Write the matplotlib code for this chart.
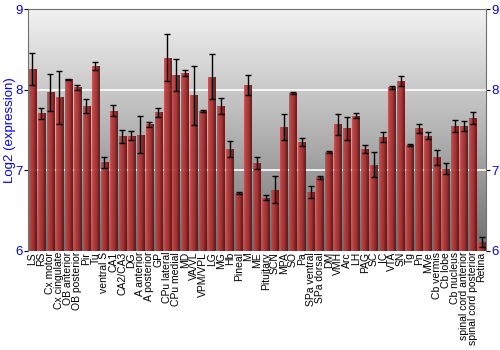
import matplotlib.pyplot as plt
import numpy as np
from matplotlib.colors import LinearSegmentedColormap

regions = ["LS", "RS", "Cx motor", "Cx cingulate", "OB anterior", "OB posterior",
           "Pir", "Tu", "ventral S", "CA1", "CA2/CA3", "DG", "A anterior",
           "A posterior", "GP", "CPu lateral", "CPu medial", "MD", "VA/VL",
           "VPM/VPL", "LG", "MG", "Hb", "Pineal", "M", "ME", "Pituitary", "SCN",
           "MPA", "SO", "Pa", "SPa ventral", "SPa dorsal", "DM", "VMH", "Arc",
           "LH", "PAG", "SC", "IC", "VTA", "SN", "Tg", "Pn", "MVe", "Cb vermis",
           "Cb lobe", "Cb nucleus", "spinal cord anterior", "spinal cord posterior",
           "Retina"]
expr = [8.26, 7.71, 7.97, 7.91, 8.13, 8.03, 7.80, 8.30, 7.10, 7.74, 7.42, 7.43,
        7.44, 7.57, 7.72, 8.40, 8.18, 8.21, 7.93, 7.74, 8.16, 7.80, 7.26, 6.72,
        8.06, 7.09, 6.66, 6.76, 7.54, 7.96, 7.35, 6.73, 6.91, 7.23, 7.57, 7.52,
        7.68, 7.26, 7.07, 7.41, 8.03, 8.11, 7.31, 7.52, 7.43, 7.16, 7.02, 7.55,
        7.55, 7.65, 6.11]
err = [0.20, 0.07, 0.23, 0.33, 0.01, 0.03, 0.09, 0.05, 0.07, 0.07, 0.08, 0.06,
       0.23, 0.03, 0.06, 0.29, 0.20, 0.04, 0.37, 0.01, 0.28, 0.10, 0.10, 0.01,
       0.13, 0.07, 0.03, 0.17, 0.16, 0.015, 0.05, 0.07, 0.02, 0.01, 0.13, 0.14,
       0.03, 0.05, 0.16, 0.06, 0.02, 0.06, 0.01, 0.06, 0.04, 0.09, 0.07, 0.07,
       0.065, 0.07, 0.06]

fig = plt.figure(figsize=(5, 3.5), dpi=100)
ax = fig.add_axes([0.056, 0.284, 0.916, 0.689])

x = np.arange(len(regions))
ax.set_xlim(-0.5, len(regions) - 0.5)
ax.set_ylim(6, 9)

# background gradient, light at top, dark at bottom
bg = LinearSegmentedColormap.from_list("bg", ["#6e6e6e", "#b4b4b4", "#f2f2f2"])
ax.imshow(np.linspace(0, 1, 256).reshape(-1, 1), cmap=bg, aspect="auto",
          extent=(-0.5, len(regions) - 0.5, 6, 9), origin="lower", zorder=0)

for v in [7, 8]:
    ax.axhline(v, color="white", lw=1.2, zorder=1)

bars = ax.bar(x, expr, width=0.82, bottom=0, color="none", zorder=2)
ax.set_ylim(6, 9)

barmap = LinearSegmentedColormap.from_list(
    "bar", ["#c65454", "#b83c3c", "#ad3232", "#a02a2a", "#7a1a1a", "#5e1212"])
grad = np.linspace(0, 1, 64).reshape(1, -1)
for b in bars:
    x0 = b.get_x()
    im = ax.imshow(grad, cmap=barmap, aspect="auto", alpha=0.93,
                   extent=(x0, x0 + b.get_width(), 6, b.get_height()), zorder=2)
    im.set_clip_path(b)

ax.errorbar(x, expr, yerr=err, fmt="none", ecolor="black", elinewidth=1,
            capsize=2, capthick=1, zorder=3)

ax.set_xlim(-0.5, len(regions) - 0.5)
ax.set_xticks(x)
ax.set_xticklabels(regions, rotation=90, fontsize=7.5, fontfamily="Liberation Sans")
ax.tick_params(axis="x", length=0, pad=1)

ax.set_yticks([6, 7, 8, 9])
ax.tick_params(axis="y", colors="#0000ff", labelsize=9.5, length=3,
               right=True, labelright=True, left=True, labelleft=True, pad=1)
for t in ax.get_yticklabels():
    t.set_fontfamily("Liberation Sans")
ax.tick_params(axis="y", which="both", color="black")
ax.set_ylabel("Log2 (expression)", color="#0000ff", fontsize=9.5,
              fontfamily="Liberation Sans")
ax.yaxis.set_label_coords(-0.026, 0.5)

for s in ["left", "right", "top"]:
    ax.spines[s].set_color("#707070")
ax.spines["bottom"].set_visible(False)

fig.savefig("out.png", dpi=100)
